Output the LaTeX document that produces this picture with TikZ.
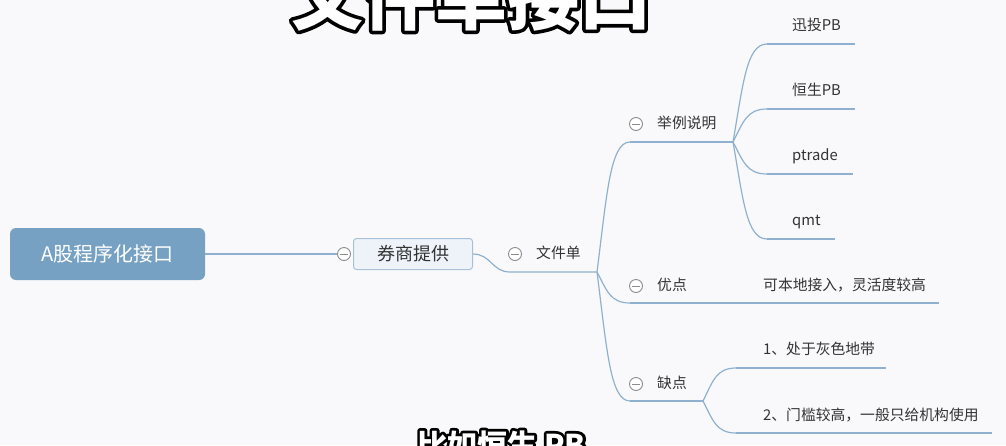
\documentclass[tikz,border=0pt]{standalone}
\usepackage{fontspec}
\setmainfont{Noto Sans CJK SC}
\newfontfamily\titleouter{Noto Sans CJK SC}[FakeBold=10]
\newfontfamily\capouter{Noto Sans CJK SC}[FakeBold=18]
\usetikzlibrary{calc}
\definecolor{bgc}{HTML}{F9F9FB}
\definecolor{linec}{HTML}{8FB1CF}
\definecolor{rootc}{HTML}{76A1C3}
\definecolor{boxc}{HTML}{EEF3FA}
\definecolor{boxb}{HTML}{A7C1DB}
\definecolor{txt}{HTML}{333333}
\definecolor{circc}{HTML}{8C8C8C}
\newcommand\conn[2]{\draw[link] let \p1=(#1), \p2=(#2) in (#1) .. controls ({\x1+0.3*(\x2-\x1)},{\y1+0.6*(\y2-\y1)}) and ({\x2-0.6*(\x2-\x1)},\y2) .. (#2);}
\newcommand\outlinedtext[2]{\special{pdf:literal direct 1 j 1 J}{#1\bfseries\color{black}\rlap{#2}}{\bfseries\color{white}#2}}
\begin{document}
\begin{tikzpicture}[x=1pt,y=-1pt,
  link/.style={draw=linec,line width=1.2pt},
  leaf/.style={anchor=west,text=txt,font=\fontsize{14.8}{17}\selectfont,inner sep=0pt,text height=11.5pt,text depth=2.6pt},
  rootbox/.style={rectangle,rounded corners=6pt,fill=rootc,text=white,font=\fontsize{20}{24}\selectfont,minimum width=195pt,minimum height=52pt,inner sep=0pt},
  subbox/.style={rectangle,rounded corners=3pt,fill=boxc,draw=boxb,line width=1pt,text=txt,font=\fontsize{18}{21}\selectfont,minimum width=119pt,minimum height=31pt,inner sep=0pt},
  collapse/.style={circle,draw=circc,fill=white,line width=0.9pt,minimum size=13pt,inner sep=0pt,
    path picture={\draw[circc,line width=0.9pt] ([xshift=-4pt]path picture bounding box.center) -- ([xshift=4pt]path picture bounding box.center);}},
  caption/.style={inner sep=0pt,line join=round,line cap=round}
]
\useasboundingbox (0,0) rectangle (1006,445);
\clip (0,0) rectangle (1006,445);
\fill[bgc] (0,0) rectangle (1006,445);

% main nodes
\node[rootbox] (root) at (107.5,254) {A股程序化接口};
\node[collapse] (c1) at (344,254) {};
\node[subbox] (b1) at (413,254) {券商提供};
\node[collapse] (c2) at (515,254) {};
\node[leaf] (wjd) at (536,254) {文件单};

% coordinates
\coordinate (s1) at (510,272);
\coordinate (br1) at (597,272);
\coordinate (ex1) at (630,142);
\coordinate (ex2) at (733,142);
\coordinate (l1a) at (767,44);  \coordinate (l1b) at (855,44);
\coordinate (l2a) at (767,109); \coordinate (l2b) at (855,109);
\coordinate (l3a) at (767,174); \coordinate (l3b) at (853,174);
\coordinate (l4a) at (767,239); \coordinate (l4b) at (835,239);
\coordinate (yd1) at (630,303); \coordinate (yd2) at (939,303);
\coordinate (qd1) at (630,401); \coordinate (qd2) at (703,401);
\coordinate (q1a) at (736,368); \coordinate (q1b) at (886,368);
\coordinate (q2a) at (736,433); \coordinate (q2b) at (992,433);

% connectors
\draw[link] (root.east) -- (c1.west);
\draw[link] (b1.east) .. controls +(18,0) and +(-18,0) .. (s1) -- (br1);
\conn{br1}{ex1} \draw[link] (ex1) -- (ex2);
\conn{ex2}{l1a} \draw[link] (l1a) -- (l1b);
\conn{ex2}{l2a} \draw[link] (l2a) -- (l2b);
\conn{ex2}{l3a} \draw[link] (l3a) -- (l3b);
\conn{ex2}{l4a} \draw[link] (l4a) -- (l4b);
\conn{br1}{yd1} \draw[link] (yd1) -- (yd2);
\conn{br1}{qd1} \draw[link] (qd1) -- (qd2);
\conn{qd2}{q1a} \draw[link] (q1a) -- (q1b);
\conn{qd2}{q2a} \draw[link] (q2a) -- (q2b);

% labels
\node[collapse] (c3) at (636,124) {};
\node[leaf] (jl) at (657,124) {举例说明};
\node[leaf] (t1) at (792,26) {迅投PB};
\node[leaf] (t2) at (792,91) {恒生PB};
\node[leaf] (t3) at (792,156) {ptrade};
\node[leaf] (t4) at (792,221) {qmt};
\node[collapse] (c4) at (636,286) {};
\node[leaf] (yd) at (657,286) {优点};
\node[leaf] (ydt) at (763,286) {可本地接入，灵活度较高};
\node[collapse] (c5) at (636,384) {};
\node[leaf] (qd) at (657,384) {缺点};
\node[leaf] (qdt1) at (763,350) {1、处于灰色地带};
\node[leaf] (qdt2) at (763,416) {2、门槛较高，一般只给机构使用};

% video captions
\node[caption,anchor=base,font=\fontsize{72}{80}\selectfont] (title) at (471,24) {\outlinedtext{\titleouter}{文件单接口}};
\node[caption,anchor=base west,font=\fontsize{30}{34}\selectfont] (cap) at (417,456) {\outlinedtext{\capouter}{比如恒生 PB}};
\end{tikzpicture}
\end{document}
